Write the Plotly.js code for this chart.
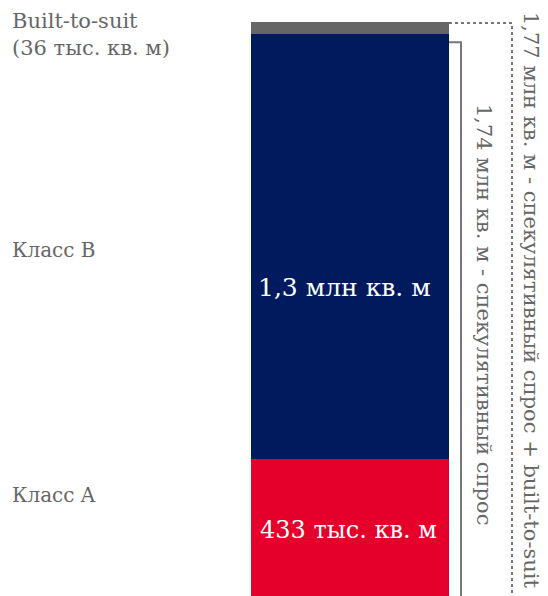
<!DOCTYPE html>
<html><head><meta charset="utf-8">
<script src="https://cdn.plot.ly/plotly-3.0.1.min.js"></script>
<style>body{margin:0;padding:0;background:#fff}#chart{width:548px;height:596px}</style>
</head><body><div id="chart"></div>
<script>
const categories = ['Класс A', 'Класс B', 'Built-to-suit'];
const values = [433, 1307, 36];
const colors = ['#e4002b', '#001a5e', '#666666'];
const barLabels = ['433 тыс. кв. м', '1,3 млн кв. м', ''];
const sideLabels = ['Класс A', 'Класс B', 'Built-to-suit<br>(36 тыс. кв. м)'];
const specTotal = values[0] + values[1];
const fullTotal = specTotal + values[2];
const specText = '1,74 млн кв. м - спекулятивный спрос';
const fullText = '1,77 млн кв. м - спекулятивный спрос + built-to-suit';

const FONT = 'DejaVu Serif, Liberation Serif, serif';
const BX = 350, BW = 198;
const data = categories.map((c, i) => ({
  type: 'bar', x: [BX], y: [values[i]], width: [BW], name: c,
  marker: {color: colors[i], line: {width: 0}},
  hoverinfo: 'none', showlegend: false
}));

const annotations = [];
// bar value labels
annotations.push({x: BX - 2, y: values[0] / 2, xanchor: 'center', yanchor: 'middle', text: barLabels[0], showarrow: false, font: {family: FONT, size: 24, color: '#fff'}});
annotations.push({x: BX - 6, y: values[0] + values[1] * 0.404, xanchor: 'center', yanchor: 'middle', text: barLabels[1], showarrow: false, font: {family: FONT, size: 25, color: '#fff'}});
// side labels
annotations.push({x: 10, y: 323, xanchor: 'left', yanchor: 'middle', text: sideLabels[0], showarrow: false, font: {family: FONT, size: 20, color: '#666'}});
annotations.push({x: 10, y: 1075, xanchor: 'left', yanchor: 'middle', text: sideLabels[1], showarrow: false, font: {family: FONT, size: 20, color: '#666'}});
annotations.push({x: 10, y: 1822, xanchor: 'left', yanchor: 'top', text: sideLabels[2], showarrow: false, align: 'left', font: {family: FONT, size: 21, color: '#666'}});
// bracket labels
annotations.push({x: 484, y: 876, xanchor: 'center', yanchor: 'middle', textangle: 90, text: specText, showarrow: false, font: {family: FONT, size: 21, color: '#666'}});
annotations.push({x: 531, y: 922, xanchor: 'center', yanchor: 'middle', textangle: 90, text: fullText, showarrow: false, font: {family: FONT, size: 21, color: '#666'}});

const right = BX + BW / 2;
const shapes = [
  {type: 'path', path: `M ${right} ${specTotal - 26} L ${right + 12} ${specTotal - 26} L ${right + 12} -20`, line: {color: '#777', width: 2}},
  {type: 'path', path: `M ${right} ${fullTotal - 3} L ${right + 63} ${fullTotal - 3} L ${right + 63} -20`, line: {color: '#777', width: 2, dash: 'dot'}}
];

const layout = {
  width: 548, height: 596,
  margin: {l: 0, r: 0, t: 0, b: 0},
  barmode: 'stack',
  paper_bgcolor: '#fff', plot_bgcolor: '#fff',
  xaxis: {range: [0, 548], visible: false, fixedrange: true},
  yaxis: {range: [12.3, 1843.6], visible: false, fixedrange: true},
  annotations, shapes,
  font: {family: FONT}
};
Plotly.newPlot('chart', data, layout, {displayModeBar: false, staticPlot: true});
</script></body></html>
